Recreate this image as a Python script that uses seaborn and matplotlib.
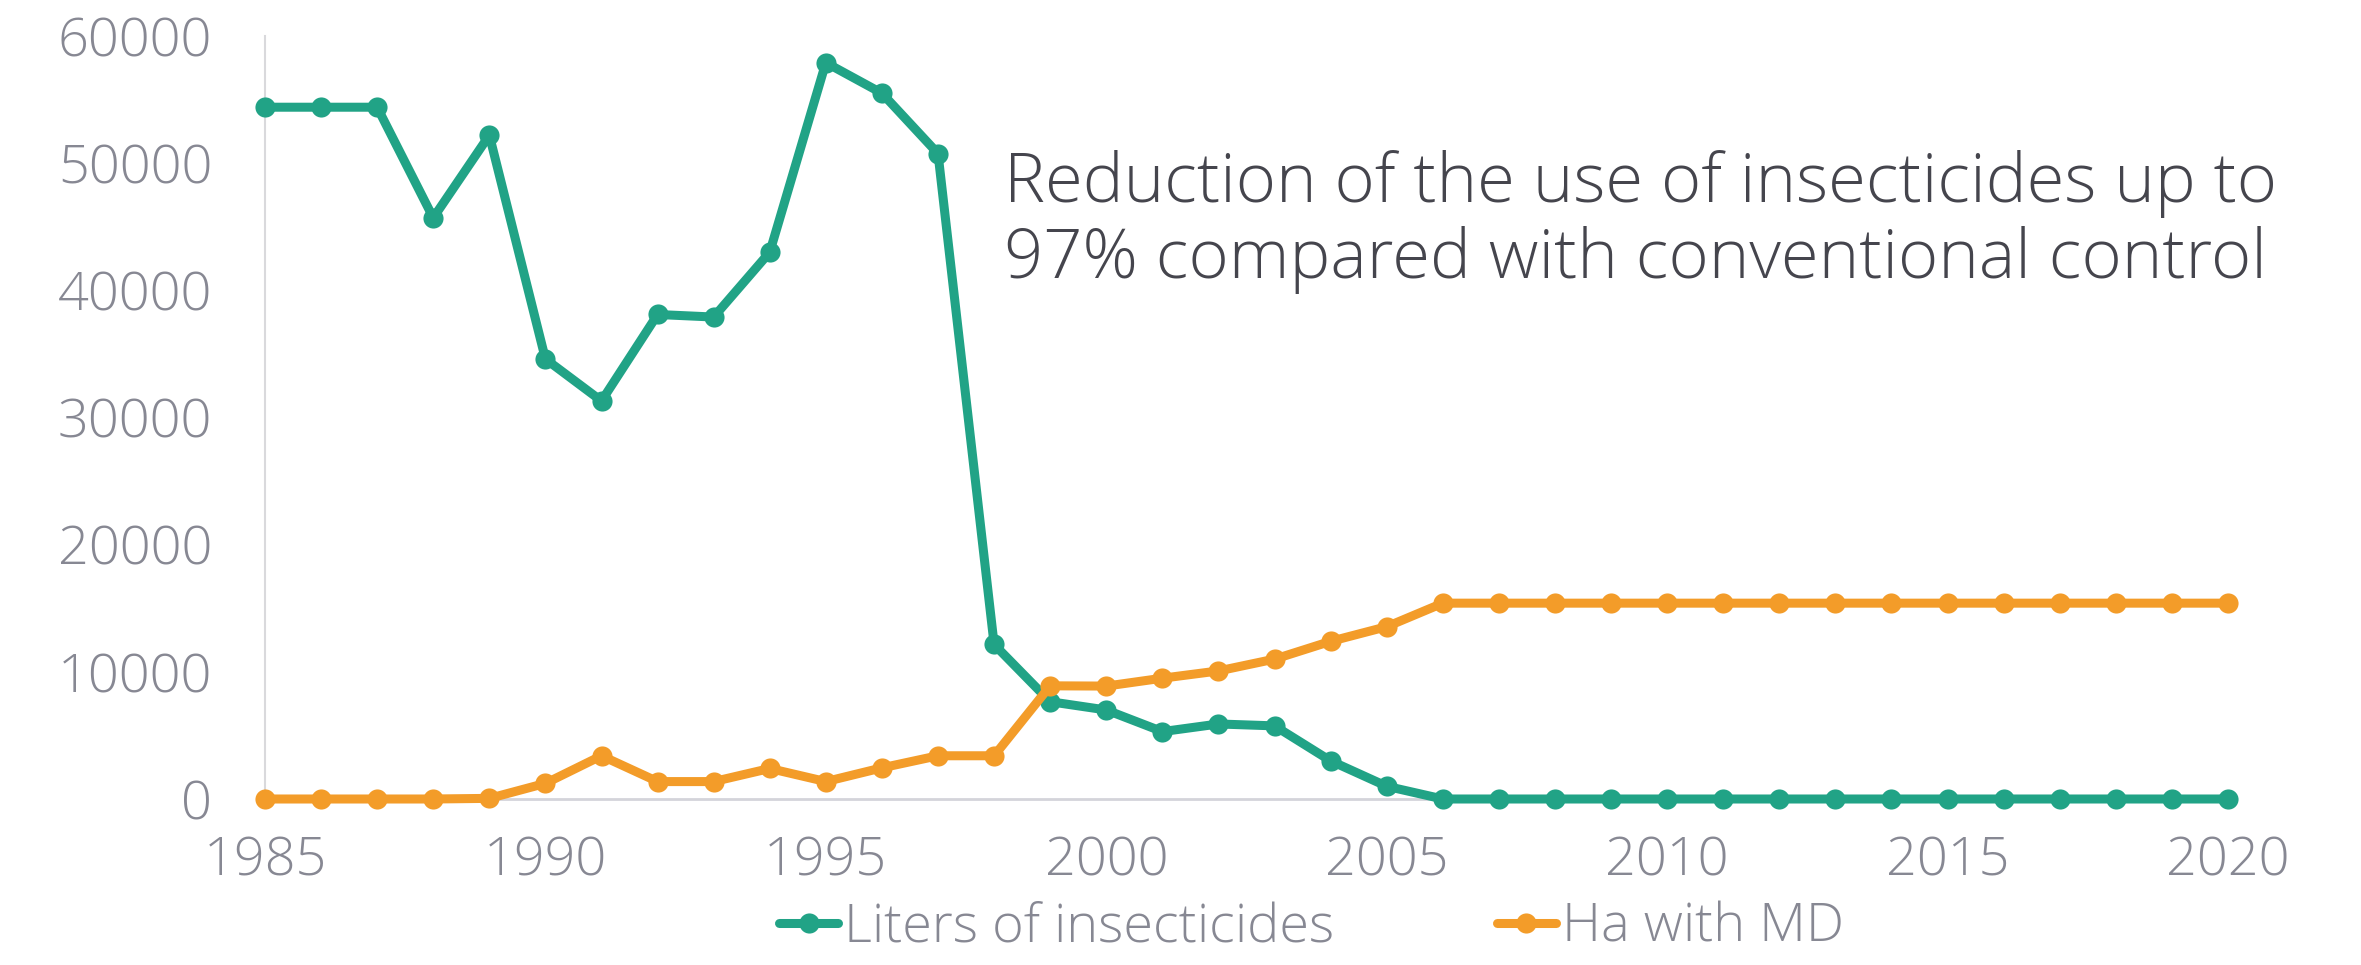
import matplotlib
matplotlib.use("Agg")
import matplotlib.pyplot as plt
import seaborn as sns
import pandas as pd

# Yearly series
years = list(range(1985, 2021))
liters_insecticides = [
    54400, 54400, 54400, 45700, 52200, 34600, 31300, 38100, 37900, 43000,
    57900, 55500, 50750, 12150, 7650, 7000, 5300, 5900, 5750, 3000,
    1000, 0, 0, 0, 0, 0, 0, 0, 0, 0,
    0, 0, 0, 0, 0, 0,
]
ha_with_md = [
    0, 0, 0, 0, 50, 1230, 3400, 1370, 1370, 2400,
    1370, 2450, 3400, 3400, 8900, 8880, 9500, 10070, 11000, 12400,
    13550, 15400, 15400, 15400, 15400, 15400, 15400, 15400, 15400, 15400,
    15400, 15400, 15400, 15400, 15400, 15400,
]
series_names = ["Liters of insecticides", "Ha with MD"]
series_colors = ["#21A386", "#F39C29"]
x_ticks = [1985, 1990, 1995, 2000, 2005, 2010, 2015, 2020]
y_ticks = [0, 10000, 20000, 30000, 40000, 50000, 60000]
note_lines = [
    "Reduction of the use of insecticides up to",
    "97% compared with conventional control",
]

df = pd.DataFrame({
    "year": years * 2,
    "value": liters_insecticides + ha_with_md,
    "series": [series_names[0]] * len(years) + [series_names[1]] * len(years),
})

sns.set_theme(style="white")
plt.rcParams["font.family"] = ["Open Sans", "DejaVu Sans"]
plt.rcParams["font.weight"] = "light"

tick_color = "#878893"
label_size = 39
W, H = 2361, 965
fig = plt.figure(figsize=(W / 100, H / 100), dpi=100)
ax = fig.add_axes([265 / W, 1 - 799 / H, (2228 - 265) / W, (799 - 36) / H])

sns.lineplot(
    data=df, x="year", y="value", hue="series", hue_order=series_names,
    palette=dict(zip(series_names, series_colors)),
    marker="o", markersize=14.5, markeredgewidth=0, linewidth=6.5,
    clip_on=False, ax=ax,
)

ax.set_xlim(1985, 2020)
ax.set_ylim(0, 60000)
ax.set_xticks(x_ticks)
ax.set_yticks(y_ticks)
ax.set_xticklabels([str(t) for t in x_ticks])
ax.set_yticklabels([str(t) for t in y_ticks])
ax.set_xlabel("")
ax.set_ylabel("")
ax.tick_params(axis="both", length=0, labelsize=label_size, labelcolor=tick_color)
ax.tick_params(axis="y", pad=38)
ax.tick_params(axis="x", pad=26)
for lbl in ax.get_xticklabels() + ax.get_yticklabels():
    lbl.set_fontweight("light")

for side in ["top", "right"]:
    ax.spines[side].set_visible(False)
ax.spines["left"].set_color("#D9D9DC")
ax.spines["left"].set_linewidth(1.5)
ax.spines["bottom"].set_color("#D4D4DA")
ax.spines["bottom"].set_linewidth(2.0)
for side in ["left", "bottom"]:
    ax.spines[side].set_zorder(0.5)

sns.move_legend(
    ax, "center", bbox_to_anchor=(0.533, -0.169), ncol=2, title=None,
    frameon=False, fontsize=label_size, handlelength=1.1, handletextpad=0.1,
    columnspacing=3.0,
)
for txt in ax.get_legend().get_texts():
    txt.set_color(tick_color)
    txt.set_fontweight("light")

for i, line in enumerate(note_lines):
    fig.text(1004 / W, 1 - (202 + 76 * i) / H, line, ha="left", va="baseline",
             fontsize=49.5, color="#45454D", fontweight="light")

fig.savefig("out.png", dpi=100)
